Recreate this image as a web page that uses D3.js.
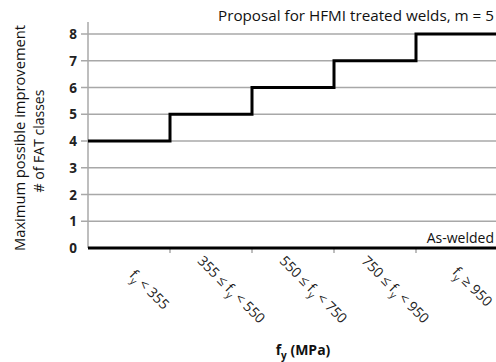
<!DOCTYPE html>
<html>
<head>
<meta charset="utf-8">
<script src="https://cdn.jsdelivr.net/npm/d3@7"></script>
<style>
  body { margin: 0; background: #fff; }
  svg { font-family: "Open Sans", Lato, sans-serif; }
</style>
</head>
<body>
<svg width="496" height="362"></svg>
<script>
// categories of yield strength (sub parts are drawn as tspans)
var categories = ["<355", "355-550", "550-750", "750-950", ">=950"];
var catLabels = [
  [["f"], ["y", "sub"], [" < 355"]],
  [["355 \u2264 f"], ["y", "sub"], [" < 550"]],
  [["550 \u2264 f"], ["y", "sub"], [" < 750"]],
  [["750 \u2264 f"], ["y", "sub"], [" < 950"]],
  [["f"], ["y", "sub"], [" \u2265 950"]]
];
var hfmi = [4, 5, 6, 7, 8];
var asWelded = [0, 0, 0, 0, 0];
var yTicks = [0, 1, 2, 3, 4, 5, 6, 7, 8];

var svg = d3.select("svg");
var mLeft = 88, mRight = 498, mTop = 22, mBottom = 248;

var x = d3.scaleBand().domain(categories).range([mLeft, mRight]);
var y = d3.scaleLinear().domain([0, 8.45]).range([mBottom, mTop]);

// gridlines + y ticks
svg.selectAll(".grid")
  .data(yTicks.filter(d => d > 0))
  .join("line")
  .attr("x1", mLeft - 7).attr("x2", mRight)
  .attr("y1", d => y(d)).attr("y2", d => y(d))
  .attr("stroke", "#a8a8a8").attr("stroke-width", 1.5);

svg.append("line")
  .attr("x1", mLeft).attr("x2", mLeft)
  .attr("y1", mTop).attr("y2", mBottom)
  .attr("stroke", "#a8a8a8").attr("stroke-width", 1.5);

svg.selectAll(".ylab")
  .data(yTicks)
  .join("text")
  .attr("x", 77).attr("y", d => y(d) + 5)
  .attr("text-anchor", "end")
  .attr("font-size", 13.5).attr("font-weight", "bold")
  .attr("fill", "#222")
  .text(d => d);

// category boundary ticks
svg.selectAll(".xtick")
  .data(categories.slice(1))
  .join("line")
  .attr("x1", d => x(d)).attr("x2", d => x(d))
  .attr("y1", mBottom).attr("y2", mBottom + 5)
  .attr("stroke", "#a8a8a8").attr("stroke-width", 1.5);

// step lines
function stepPts(vals) {
  var pts = categories.map((c, i) => [x(c), y(vals[i])]);
  pts.push([x.range()[1], y(vals[vals.length - 1])]);
  return pts;
}
var line = d3.line().curve(d3.curveStepAfter);

svg.append("path")
  .attr("d", line(stepPts(asWelded)))
  .attr("fill", "none").attr("stroke", "#000").attr("stroke-width", 3);

svg.append("path")
  .attr("d", line(stepPts(hfmi)))
  .attr("fill", "none").attr("stroke", "#000").attr("stroke-width", 3);

// series labels
svg.append("text")
  .attr("x", 494).attr("y", 21)
  .attr("text-anchor", "end").attr("font-size", 14).attr("fill", "#111")
  .attr("textLength", 276).attr("lengthAdjust", "spacingAndGlyphs")
  .text("Proposal for HFMI treated welds, m = 5");
svg.append("text")
  .attr("x", 494).attr("y", 243)
  .attr("text-anchor", "end").attr("font-size", 14).attr("fill", "#111")
  .text("As-welded");

// rotated category labels (last one nudged so it stays inside the frame)
var xl = svg.selectAll(".xlab")
  .data(categories)
  .join("text")
  .attr("text-anchor", "middle")
  .attr("font-size", 14).attr("fill", "#222")
  .attr("transform", (d, i) => "translate(" + (x(d) + x.bandwidth() / 2 + (i === 4 ? 12 : 17)) + "," + (i === 4 ? 290 : 293) + ") rotate(45)");
xl.each(function(d, i) {
  var t = d3.select(this);
  catLabels[i].forEach(function(p, j) {
    var s = t.append("tspan").text(p[0]);
    if (p[1] === "sub") s.attr("font-size", 10).attr("dy", 4);
    else if (j > 0) s.attr("dy", -4);
  });
});

// axis titles
svg.append("text")
  .attr("transform", "translate(25,138) rotate(-90)")
  .attr("text-anchor", "middle").attr("font-size", 14).attr("fill", "#111")
  .attr("textLength", 226).attr("lengthAdjust", "spacingAndGlyphs")
  .text("Maximum possible improvement");
svg.append("text")
  .attr("transform", "translate(44,141) rotate(-90)")
  .attr("text-anchor", "middle").attr("font-size", 14).attr("fill", "#111")
  .text("# of FAT classes");

var xt = svg.append("text")
  .attr("x", 303).attr("y", 355)
  .attr("text-anchor", "middle").attr("font-size", 14).attr("font-weight", "bold").attr("fill", "#111");
xt.append("tspan").text("f");
xt.append("tspan").text("y").attr("font-size", 10).attr("dy", 4);
xt.append("tspan").text(" (MPa)").attr("dy", -4);
</script>
</body>
</html>
